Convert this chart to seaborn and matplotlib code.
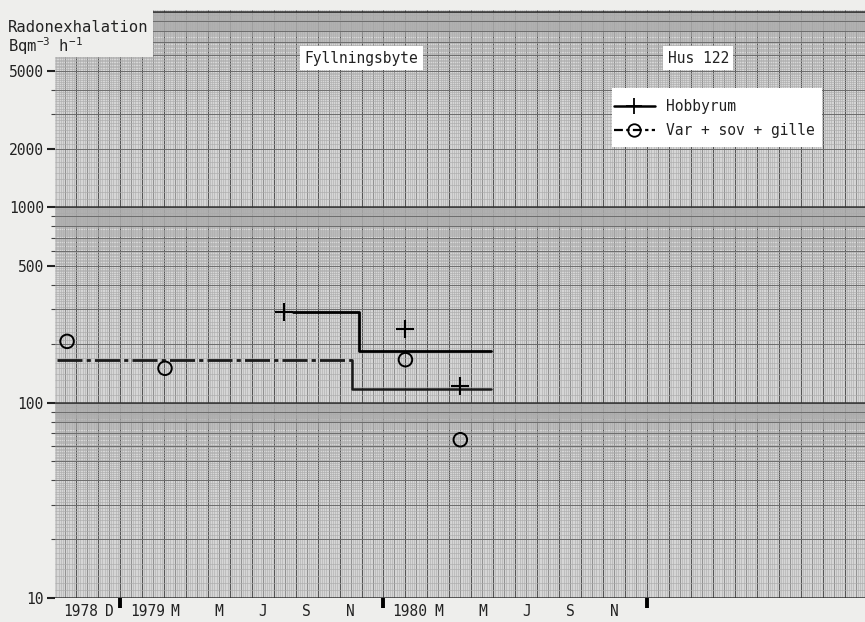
import numpy as np
import pandas as pd
import matplotlib
matplotlib.use("Agg")
import matplotlib.pyplot as plt
import seaborn as sns
from matplotlib.lines import Line2D
from matplotlib.patches import Rectangle
from matplotlib.legend_handler import HandlerLine2D
from matplotlib.ticker import FixedLocator, NullFormatter

# x = months counted from 1 Jan 1979
# Hobbyrum: step line + single readings
hobby_step_x = [7.9, 10.9, 10.9, 16.9]
hobby_step_y = [290, 290, 183, 183]
hobby_pts_x = [7.45, 13.0, 15.5]
hobby_pts_y = [290, 237, 122]

# Var + sov + gille: step line (dash-dot part, then solid part) + readings
var_step_x = [-2.86, 10.55]
var_step_y = [166, 166]
var_step2_x = [10.55, 10.55, 16.9]
var_step2_y = [166, 118, 118]
var_pts_x = [-2.41, 2.05, 13.0, 15.5]
var_pts_y = [206, 150, 166, 64.6]

# axis labels
x_label_pos = [-1.8, -0.5, 1.25, 2.5, 4.5, 6.5, 8.5, 10.5, 13.2, 14.5, 16.5, 18.5, 20.5, 22.5]
x_label_txt = ["1978", "D", "1979", "M", "M", "J", "S", "N", "1980", "M", "M", "J", "S", "N"]
year_ticks = [0, 12, 24]
y_ticks = [10, 100, 500, 1000, 2000, 5000]
y_minor = [20, 30, 40, 50, 60, 70, 80, 90, 200, 300, 400, 600, 700, 800, 900, 3000, 4000]

sns.set_style("white")
plt.rcParams['font.family'] = ['DejaVu Sans Mono', 'DejaVu Sans']
plt.rcParams['mathtext.fontset'] = 'custom'
plt.rcParams['mathtext.rm'] = 'DejaVu Sans Mono'

W, H = 865, 622
bg = '#eeeeec'
fig = plt.figure(figsize=(W / 100, H / 100), dpi=100, facecolor=bg)
ax = fig.add_axes([55 / W, (H - 598) / H, 810 / W, 588 / H])
ax.set_facecolor('#d6d6d6')
ax.set_yscale('log')
ax.set_xlim(-2.96, 33.93)
ax.set_ylim(10, 10240)

# --- graph paper ---
xmin, xmax = ax.get_xlim()
fine_x = np.arange(np.floor(xmin), xmax, 0.1)
ax.vlines(fine_x, 10, 10240, color='#b0b0b0', lw=0.45, zorder=0)
half_x = np.arange(np.floor(xmin) + 0.5, xmax, 1.0)
ax.vlines(half_x, 10, 10240, color='#8a8a8a', lw=0.6, zorder=0)
mon_x = np.arange(np.floor(xmin), xmax, 1.0)
ax.vlines(mon_x, 10, 10240, color='#555555', lw=0.8, zorder=0)

fine_y, int_y = [], []
for dec in [10, 100, 1000, 10000]:
    fine_y += list(dec * np.arange(1.0, 8.0, 0.1))
    fine_y += list(dec * np.arange(8.0, 10.0, 0.05))
    int_y += list(dec * np.arange(1, 10))
ax.hlines(fine_y, xmin, xmax, color='#ababab', lw=0.45, zorder=0)
ax.hlines(int_y, xmin, xmax, color='#6c6c6c', lw=0.7, zorder=0)
ax.hlines([10, 100, 1000, 10000], xmin, xmax, color='#333333', lw=1.1, zorder=0)

# blank corner top-left (title area above 5000)
ax.add_patch(Rectangle((0, 0.92), 98 / 810, 0.08, transform=ax.transAxes,
                       facecolor=bg, edgecolor='none', zorder=1, clip_on=False))

# --- data ---
df_h = pd.DataFrame({'x': hobby_step_x, 'y': hobby_step_y})
sns.lineplot(data=df_h, x='x', y='y', estimator=None, sort=False, color='black', lw=2.0, ax=ax, zorder=3)
sns.scatterplot(x=hobby_pts_x, y=hobby_pts_y, marker='+', s=170, color='black', linewidth=1.5, ax=ax, zorder=4)

df_v1 = pd.DataFrame({'x': var_step_x, 'y': var_step_y})
df_v2 = pd.DataFrame({'x': var_step2_x, 'y': var_step2_y})
sns.lineplot(data=df_v1, x='x', y='y', estimator=None, sort=False, color='#1a1a1a', lw=2.0,
             linestyle=(0, (9, 1.5, 1.5, 1.5)), ax=ax, zorder=3)
sns.lineplot(data=df_v2, x='x', y='y', estimator=None, sort=False, color='#1a1a1a', lw=1.8, ax=ax, zorder=3)
sns.scatterplot(x=var_pts_x, y=var_pts_y, marker='o', s=95, fc='none', ec='black', linewidth=1.4, ax=ax, zorder=4)

# --- axes / ticks ---
for sp in ax.spines.values():
    sp.set_visible(False)
ax.set_xlabel('')
ax.set_ylabel('')
ax.xaxis.set_major_locator(FixedLocator(x_label_pos))
ax.set_xticklabels(x_label_txt)
ax.xaxis.set_minor_locator(FixedLocator(year_ticks))
ax.tick_params(axis='x', which='major', length=0, pad=4, labelsize=10.5, labelcolor='#222222')
ax.tick_params(axis='x', which='minor', bottom=True, length=7, width=2.8, color='black')

ax.yaxis.set_major_locator(FixedLocator(y_ticks))
ax.set_yticklabels([str(v) for v in y_ticks])
ax.yaxis.set_minor_locator(FixedLocator(y_minor))
ax.yaxis.set_minor_formatter(NullFormatter())
ax.tick_params(axis='y', which='major', left=True, length=6, width=1.5, color='#222222', pad=2,
               labelsize=10.5, labelcolor='#222222')
ax.tick_params(axis='y', which='minor', left=True, length=3, width=0.8, color='#444444')

# --- texts ---
fig.text(8 / W, 1 - 27 / H, "Radonexhalation", fontsize=11.2, va='center', ha='left', color='#222222')
fig.text(8 / W, 1 - 46 / H, "Bqm$^{\\mathrm{-3}}$ h$^{\\mathrm{-1}}$", fontsize=11.2, va='center',
         ha='left', color='#222222')

box = dict(boxstyle='square,pad=0.3', facecolor='white', edgecolor='none')
ax.text(11.0, 0.918, "Fyllningsbyte", transform=ax.get_xaxis_transform(), ha='center', va='center',
        fontsize=10.5, color='#222222', bbox=box, zorder=5)
ax.text(0.794, 0.918, "Hus 122", transform=ax.transAxes, ha='center', va='center',
        fontsize=10.5, color='#222222', bbox=box, zorder=5)

# legend: white box, frameless legend on top
ax.add_patch(Rectangle((557 / 810, 1 - 137 / 588), 210 / 810, 59 / 588, transform=ax.transAxes,
                       facecolor='white', edgecolor='none', zorder=5))


class EndMarker(HandlerLine2D):
    def get_xdata(self, legend, xdescent, ydescent, width, height, fontsize):
        xdata, _ = super().get_xdata(legend, xdescent, ydescent, width, height, fontsize)
        return xdata, np.array([xdata[-1]])


h1 = Line2D([], [], color='black', lw=1.8, marker='+', ms=12, mew=1.3)
h2 = Line2D([], [], color='black', lw=1.6, linestyle=(0, (4, 1.5, 1.5, 1.5)), marker='o', ms=9,
            mfc='none', mew=1.3)
leg = ax.legend([h1, h2], ["Hobbyrum", "Var + sov + gille"], loc='upper left',
                bbox_to_anchor=(559 / 810, 1 - 89 / 588), borderaxespad=0, frameon=False,
                fontsize=10.5, handlelength=2.8, handletextpad=0.75, borderpad=0.0, labelspacing=0.6,
                handler_map={h1: EndMarker(), h2: EndMarker()})
leg.set_zorder(6)
for t in leg.get_texts():
    t.set_color('#222222')

fig.savefig("out.png", dpi=100, facecolor=fig.get_facecolor())
